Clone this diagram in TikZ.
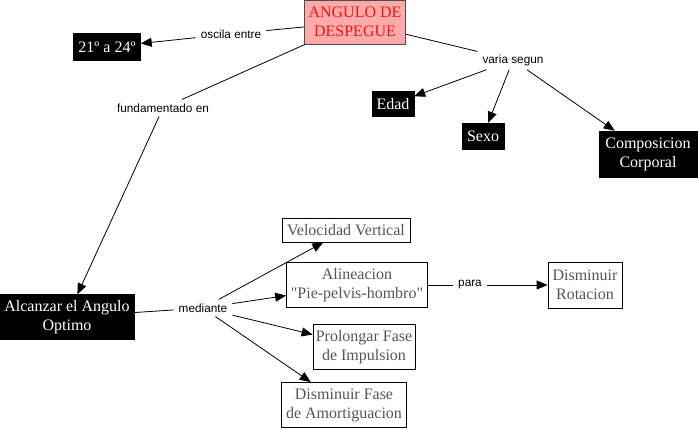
\documentclass[tikz,border=0pt]{standalone}
\usepackage{fontspec}
\setmainfont{Liberation Serif}[Ligatures=TeXOff]
\newfontfamily\labfont{Liberation Sans}
\usetikzlibrary{arrows.meta}
\definecolor{pinkfill}{RGB}{255,170,170}
\definecolor{redtext}{RGB}{235,20,20}
\definecolor{graytext}{RGB}{85,85,85}
\tikzset{
  blackbox/.style={fill=black, text=white, draw=black, align=center, inner sep=0pt,
    font=\fontsize{16}{19}\selectfont},
  whitebox/.style={fill=white, text=graytext, draw=black, line width=0.8pt, align=center, inner sep=0pt,
    font=\fontsize{16}{19}\selectfont},
  rootbox/.style={fill=pinkfill, text=redtext, draw=black!70, line width=0.8pt, align=center, inner sep=0pt,
    font=\fontsize{16}{19}\selectfont},
  lbl/.style={font=\labfont\fontsize{11.8}{13}\selectfont, inner xsep=5pt, inner ysep=4pt},
  conn/.style={line width=0.8pt},
  arr/.style={line width=0.8pt, -{Triangle[length=11pt,width=9pt]}},
}
\begin{document}
\begin{tikzpicture}[x=1pt,y=-1pt]
\useasboundingbox (0,0) rectangle (698,430);
% concepts
\node[rootbox, minimum width=101pt, minimum height=44pt] (ang) at (355,22) {ANGULO DE\\DESPEGUE};
\node[blackbox, minimum width=67pt, minimum height=27pt] (deg) at (107,47) {21º a 24º};
\node[blackbox, minimum width=42pt, minimum height=25pt] (edad) at (393,104) {Edad};
\node[blackbox, minimum width=42pt, minimum height=26pt] (sexo) at (483,136) {Sexo};
\node[blackbox, minimum width=98pt, minimum height=46pt] (comp) at (648,154) {Composicion\\Corporal};
\node[blackbox, minimum width=135pt, minimum height=45pt] (alc) at (67,317) {Alcanzar el Angulo\\Optimo};
\node[whitebox, minimum width=128pt, minimum height=24pt] (vel) at (346,230) {Velocidad Vertical};
\node[whitebox, minimum width=141pt, minimum height=45pt] (ali) at (357,285) {Alineacion\\"Pie-pelvis-hombro"};
\node[whitebox, minimum width=102pt, minimum height=45pt] (pro) at (364,347) {Prolongar Fase\\de Impulsion};
\node[whitebox, minimum width=125pt, minimum height=45pt] (dis) at (344,405) {Disminuir Fase\\de Amortiguacion};
\node[whitebox, minimum width=74pt, minimum height=46pt] (rot) at (585,285) {Disminuir\\Rotacion};
% linking phrases
\node[lbl] (osc) at (231,34) {oscila entre};
\node[lbl] (fun) at (163,108) {fundamentado en};
\node[lbl] (var) at (513,60) {varia segun};
\node[lbl] (med) at (203,308) {mediante};
\node[lbl] (para) at (470,285) {para};
% connectors
\draw[conn] (ang) -- (osc);
\draw[arr] (osc) -- (deg);
\draw[conn] (ang) -- (fun);
\draw[arr] (fun) -- (alc);
\draw[conn] (ang) -- (var);
\draw[arr] (var) -- (edad);
\draw[arr] (var) -- (sexo);
\draw[arr] (var) -- (comp);
\draw[conn] (alc) -- (med);
\draw[arr] (med) -- (vel);
\draw[arr] (med) -- (ali);
\draw[arr] (med) -- (pro);
\draw[arr] (med) -- (dis);
\draw[conn] (ali) -- (para);
\draw[arr] (para) -- (rot);
\end{tikzpicture}
\end{document}
